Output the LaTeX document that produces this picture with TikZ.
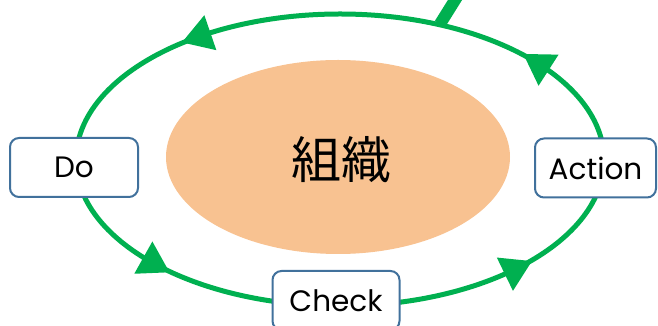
\documentclass[tikz,border=0pt]{standalone}
\usepackage{fontspec}
\usetikzlibrary{calc,shapes.geometric}
\setmainfont{Poppins}
\newfontfamily\cjk{Noto Sans CJK JP}
\definecolor{cyclegreen}{HTML}{00B050}
\definecolor{orgorange}{HTML}{F8C291}
\definecolor{boxblue}{HTML}{41719C}
\tikzset{
  stagebox/.style={draw=boxblue, line width=2pt, fill=white, rounded corners=9pt,
    minimum height=59pt, inner sep=0pt, font=\fontsize{29.5}{29.5}\selectfont},
  cycleline/.style={draw=cyclegreen, line width=5pt},
}
\begin{document}
\begin{tikzpicture}[x=1pt, y=1pt]
\useasboundingbox (0,0) rectangle (658,326);
\clip (0,0) rectangle (658,326);
% cycle ellipse
\coordinate (cc) at (340,166);
\draw[cycleline] (cc) ellipse [x radius=264, y radius=146];
% arrow heads along the cycle (counterclockwise)
\foreach \t in {121.8, 40.7, 224.6, 311.2} {
  \pgfmathsetmacro\px{340+264*cos(\t)}
  \pgfmathsetmacro\py{166+146*sin(\t)}
  \pgfmathsetmacro\ang{atan2(146*cos(\t), -264*sin(\t))}
  \fill[cyclegreen, shift={(\px,\py)}, rotate=\ang] (20,0) -- (-10,18.5) -- (-10,-18.5) -- cycle;
}
% plan stub
\coordinate (plan) at (440,302);
\coordinate (planend) at ($(plan)+(58:45)$);
\draw[cyclegreen, line width=12pt] (plan) -- (planend);
% organisation
\node[ellipse, fill=orgorange, minimum width=344pt, minimum height=194pt, inner sep=0pt] (org) at (338,169) {};
\node[font=\cjk\fontsize{50}{50}\selectfont] (orgtext) at (341,166) {組織};
% stage boxes
\node[stagebox, minimum width=128pt] (do) at (74,158.5) {Do};
\node[stagebox, minimum width=121pt] (action) at (595.5,158) {Action};
\node[stagebox, minimum width=127pt] (check) at (336,25.5) {Check};
\end{tikzpicture}
\end{document}
